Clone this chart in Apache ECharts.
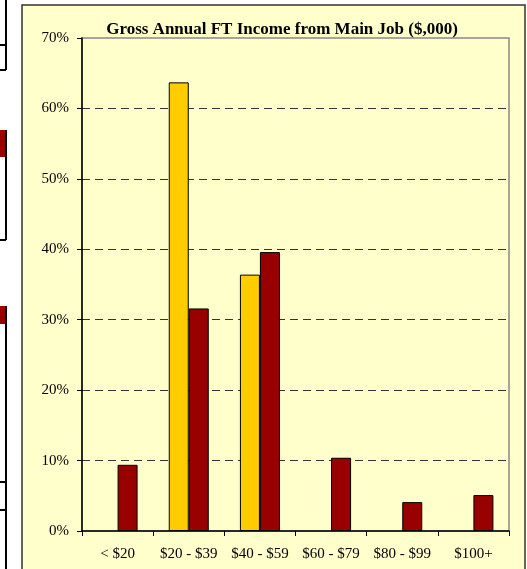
<!DOCTYPE html>
<html lang="en">
<head>
    <meta charset="UTF-8">
    <title>Gross Annual FT Income from Main Job</title>
    <script src="https://cdn.jsdelivr.net/npm/echarts@6/dist/echarts.min.js"></script>
    <style>
        html, body {
            margin: 0;
            padding: 0;
            background-color: #ffffff;
        }
        #chart {
            width: 527px;
            height: 569px;
        }
    </style>
</head>
<body>
    <div id="chart"></div>
    <script>
        // Chart data (percent of respondents)
        var categories = ['< $20', '$20 - $39', '$40 - $59', '$60 - $79', '$80 - $99', '$100+'];
        var yellowValues = [null, 63.7, 36.4, null, null, null];
        var redValues = [9.4, 31.6, 39.6, 10.4, 4.1, 5.1];
        var yTicks = [0, 10, 20, 30, 40, 50, 60, 70];

        var chart = echarts.init(document.getElementById('chart'));

        var serif = '"Liberation Serif", "Times New Roman", serif';

        // Cut-off neighbouring boxes on the left edge + the chart panel
        var decor = [
            { type: 'rect', z: -20, shape: { x: 22, y: 5, width: 503, height: 570 },
              style: { fill: '#FFFFCC', stroke: '#333333', lineWidth: 1.5 } },
            { type: 'line', z: -19, shape: { x1: 6, y1: 0, x2: 6, y2: 70 }, style: { stroke: '#000', lineWidth: 2 } },
            { type: 'line', z: -19, shape: { x1: 0, y1: 45, x2: 6, y2: 45 }, style: { stroke: '#000', lineWidth: 2 } },
            { type: 'line', z: -19, shape: { x1: 0, y1: 70, x2: 6, y2: 70 }, style: { stroke: '#000', lineWidth: 2 } },
            { type: 'rect', z: -19, shape: { x: 0, y: 130, width: 6, height: 27 }, style: { fill: '#990000' } },
            { type: 'line', z: -19, shape: { x1: 6, y1: 130, x2: 6, y2: 240 }, style: { stroke: '#000', lineWidth: 2 } },
            { type: 'line', z: -19, shape: { x1: 0, y1: 240, x2: 6, y2: 240 }, style: { stroke: '#000', lineWidth: 2 } },
            { type: 'rect', z: -19, shape: { x: 0, y: 306, width: 6, height: 18 }, style: { fill: '#990000' } },
            { type: 'line', z: -19, shape: { x1: 6, y1: 306, x2: 6, y2: 569 }, style: { stroke: '#000', lineWidth: 2 } },
            { type: 'line', z: -19, shape: { x1: 0, y1: 482, x2: 6, y2: 482 }, style: { stroke: '#000', lineWidth: 2 } },
            { type: 'line', z: -19, shape: { x1: 0, y1: 510, x2: 6, y2: 510 }, style: { stroke: '#000', lineWidth: 2 } }
        ];

        var option = {
            animation: false,
            backgroundColor: '#ffffff',
            graphic: decor,
            title: {
                text: 'Gross Annual FT Income from Main Job ($,000)',
                left: 277,
                textAlign: 'center',
                top: 16,
                textStyle: {
                    fontFamily: serif,
                    fontWeight: 'bold',
                    fontSize: 17,
                    color: '#000'
                }
            },
            grid: {
                left: 82,
                right: 18,
                top: 38,
                bottom: 38,
                show: true,
                backgroundColor: 'transparent',
                borderColor: '#888888',
                borderWidth: 1.5
            },
            xAxis: {
                type: 'category',
                data: categories,
                axisLine: { lineStyle: { color: '#000', width: 1.5 } },
                axisTick: { show: true, length: 5, lineStyle: { color: '#000' } },
                axisLabel: {
                    fontFamily: serif,
                    fontSize: 15,
                    color: '#000',
                    margin: 16,
                    interval: 0
                }
            },
            yAxis: {
                type: 'value',
                min: yTicks[0],
                max: yTicks[yTicks.length - 1],
                interval: 10,
                axisLine: { show: true, lineStyle: { color: '#000', width: 1.5 } },
                axisTick: { show: true, length: 5, lineStyle: { color: '#000' } },
                axisLabel: {
                    fontFamily: serif,
                    fontSize: 15,
                    color: '#000',
                    margin: 13,
                    formatter: '{value}%'
                },
                splitLine: {
                    show: true,
                    showMinLine: false,
                    showMaxLine: false,
                    lineStyle: { color: '#333333', type: [8, 5], width: 1.2 }
                }
            },
            series: [
                {
                    name: 'Series 1',
                    type: 'bar',
                    data: yellowValues,
                    barWidth: 20,
                    barGap: '0%',
                    itemStyle: { color: '#FFCC00', borderColor: '#000', borderWidth: 1 }
                },
                {
                    name: 'Series 2',
                    type: 'bar',
                    data: redValues,
                    barWidth: 20,
                    barGap: '0%',
                    itemStyle: { color: '#990000', borderColor: '#000', borderWidth: 1 }
                }
            ]
        };

        chart.setOption(option);
    </script>
</body>
</html>
